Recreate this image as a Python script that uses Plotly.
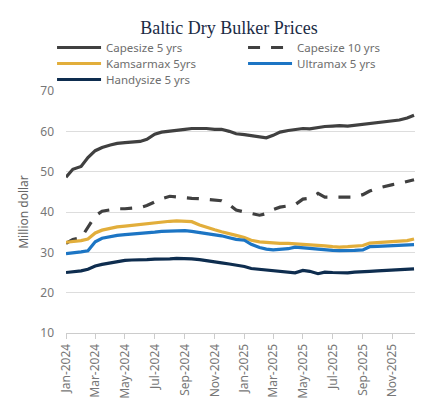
import pandas as pd
import plotly.graph_objects as go

# semi-monthly observations, Jan 2024 - Dec 2025 (USD million)
dates = pd.date_range("2024-01-01", "2025-12-16", freq="SMS")

capesize_5 = [48.6, 50.6, 51.3, 53.5, 55.2, 56.0, 56.6, 57.0, 57.2, 57.4, 57.5, 58.0,
              59.3, 59.8, 60.0, 60.1, 60.5, 60.7, 60.8, 60.7, 60.5, 60.5, 60.0, 59.4,
              59.2, 58.9, 58.5, 58.4, 59.0, 59.8, 60.2, 60.5, 60.7, 60.6, 61.0, 61.2,
              61.3, 61.4, 61.3, 61.5, 61.8, 62.1, 62.3, 62.4, 62.6, 62.8, 63.3, 64.0]
capesize_10 = [32.2, 33.2, 33.6, 36.2, 39.0, 40.2, 40.6, 40.8, 40.8, 40.9, 41.1, 41.6,
               42.6, 43.3, 43.9, 43.7, 43.5, 43.4, 43.3, 43.2, 43.0, 42.8, 41.8, 40.5,
               40.0, 39.6, 39.2, 39.6, 40.6, 41.2, 41.5, 41.8, 43.2, 43.4, 44.6, 43.7,
               43.7, 43.7, 43.7, 43.7, 44.3, 45.2, 45.9, 46.4, 46.8, 47.1, 47.6, 48.0]
kamsarmax_5 = [32.5, 32.6, 32.9, 33.3, 34.8, 35.5, 36.0, 36.3, 36.5, 36.7, 36.8, 37.0,
               37.3, 37.5, 37.7, 37.8, 37.7, 37.6, 36.8, 36.2, 35.6, 35.1, 34.7, 34.2,
               33.7, 33.0, 32.6, 32.4, 32.3, 32.2, 32.2, 32.1, 32.1, 31.9, 31.7, 31.6,
               31.4, 31.3, 31.4, 31.5, 31.7, 32.3, 32.4, 32.5, 32.6, 32.7, 32.9, 33.3]
ultramax_5 = [29.7, 29.8, 30.1, 30.4, 32.6, 33.5, 33.9, 34.2, 34.4, 34.5, 34.6, 34.8,
              35.0, 35.2, 35.3, 35.4, 35.4, 35.2, 34.9, 34.7, 34.5, 34.1, 33.6, 33.2,
              33.0, 32.0, 31.2, 30.8, 30.6, 30.7, 30.9, 31.3, 31.2, 31.0, 30.8, 30.6,
              30.5, 30.4, 30.4, 30.5, 30.6, 31.4, 31.5, 31.6, 31.6, 31.7, 31.8, 31.9]
handysize_5 = [25.0, 25.1, 25.4, 25.8, 26.6, 27.0, 27.4, 27.8, 28.0, 28.1, 28.1, 28.2,
               28.3, 28.3, 28.4, 28.5, 28.5, 28.4, 28.2, 28.0, 27.7, 27.4, 27.1, 26.9,
               26.5, 26.0, 25.8, 25.5, 25.4, 25.2, 25.0, 24.9, 25.5, 25.3, 24.7, 25.1,
               25.0, 24.9, 24.9, 25.1, 25.3, 25.3, 25.4, 25.5, 25.6, 25.7, 25.8, 25.9]

# name, values, colour, dash, legend row
series = [
    ("Capesize 5 yrs", capesize_5, "#404040", "solid", "legend"),
    ("Capesize 10 yrs", capesize_10, "#404040", "12px,11px", "legend"),
    ("Kamsarmax 5yrs", kamsarmax_5, "#E2AE3B", "solid", "legend2"),
    ("Ultramax 5 yrs", ultramax_5, "#1C75C4", "solid", "legend2"),
    ("Handysize 5 yrs", handysize_5, "#0E2D4F", "solid", "legend3"),
]

fig = go.Figure()
for name, vals, color, dash, leg in series:
    fig.add_trace(go.Scatter(
        x=dates, y=vals, name=name, mode="lines", legend=leg,
        line=dict(color=color, width=3.2, dash=dash),
    ))

# one legend per row so the rows sit closer than plotly's default spacing
def legend_row(y):
    return dict(orientation="h", x=-0.04, xanchor="left", y=y, yanchor="top",
                entrywidth=132, entrywidthmode="pixels", itemwidth=44,
                font=dict(size=11.5, color="#6E6E6E"), bgcolor="rgba(0,0,0,0)")

# page body has an 8px margin, so the figure is a bit smaller than the window
fig.update_layout(
    width=431, height=405,
    margin=dict(l=58, r=24, t=83, b=80, autoexpand=False),
    paper_bgcolor="white", plot_bgcolor="white",
    font=dict(family="Noto Sans", size=12, color="#777777"),
    title=dict(text="Baltic Dry Bulker Prices", x=0.513, xanchor="center", y=0.951, yanchor="middle",
               font=dict(family="Liberation Serif", size=18, color="#1B2B45")),
    legend=legend_row(1.2397),
    legend2=legend_row(1.1736),
    legend3=legend_row(1.1074),
)

fig.update_yaxes(
    range=[10, 70], dtick=10, showgrid=True, gridcolor="#DDDDDD", gridwidth=1,
    zeroline=False, showline=False, ticks="", ticklabelstandoff=11,
    title=dict(text="Million dollar", font=dict(size=12, color="#666666"), standoff=9),
    tickfont=dict(size=12, color="#777777"),
)
fig.update_xaxes(
    range=["2024-01-01", "2025-12-17"], dtick="M2", tick0="2024-01-01", tickformat="%b-%Y",
    tickangle=-90, showgrid=False, showline=True, linecolor="#CCCCCC", linewidth=1,
    ticks="outside", tickcolor="#CCCCCC", ticklen=5,
    tickfont=dict(size=12, color="#777777"),
)

fig.write_html("out.html")
